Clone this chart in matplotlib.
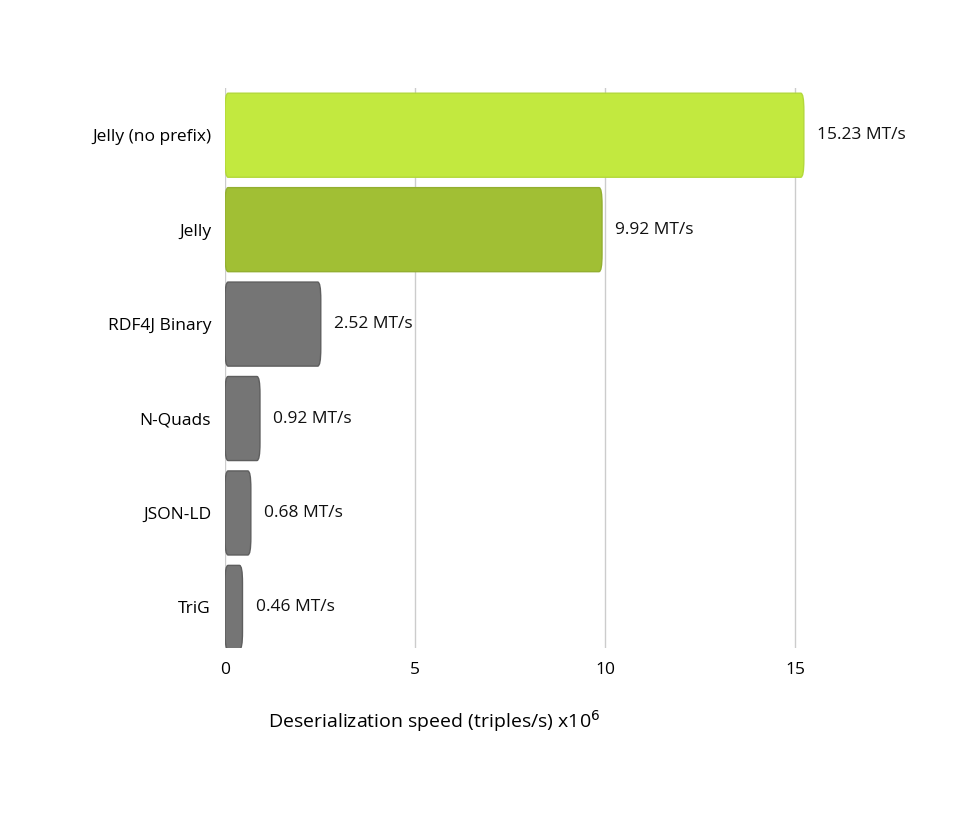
import matplotlib
matplotlib.use("Agg")
import matplotlib.pyplot as plt
from matplotlib.patches import FancyBboxPatch

categories = ["Jelly (no prefix)", "Jelly", "RDF4J Binary", "N-Quads", "JSON-LD", "TriG"]
values = [15.23, 9.92, 2.52, 0.92, 0.68, 0.46]
labels = ["15.23 MT/s", "9.92 MT/s", "2.52 MT/s", "0.92 MT/s", "0.68 MT/s", "0.46 MT/s"]
colors = ["#c2e93f", "#a1bf34", "#757575", "#757575", "#757575", "#757575"]
edges = ["#b3d83a", "#93af30", "#5e5e5e", "#5e5e5e", "#5e5e5e", "#5e5e5e"]

plt.rcParams["font.family"] = "Open Sans"
fig = plt.figure(figsize=(9.8, 8.17), dpi=100)
ax = fig.add_axes([225/980, 1-648/817, 675/980, 560/817])
ax.set_xlim(0, 17.76)
ax.set_ylim(5.43, -0.5)
h = 0.89
for i, (v, c, e) in enumerate(zip(values, colors, edges)):
    p = FancyBboxPatch((0, i - h/2), v, h, boxstyle="round,pad=0,rounding_size=0.08",
                       mutation_aspect=1/ (38/94.5) if False else 2.3, fc=c, ec=e, lw=1, zorder=3)
    ax.add_patch(p)
    ax.text(v + 0.35, i, labels[i], va="center", ha="left", fontsize=12.5, color="#111111")
ax.set_yticks(range(len(categories)))
ax.set_yticklabels(categories, fontsize=12.5)
ax.set_xticks([0, 5, 10, 15])
ax.tick_params(axis="both", length=0, labelsize=12.5, pad=10)
ax.grid(axis="x", color="#cccccc", lw=1, zorder=0)
for s in ax.spines.values():
    s.set_visible(False)
ax.set_xlabel("Deserialization speed (triples/s) x10$^6$", fontsize=14, labelpad=22, x=0.31)
fig.savefig("out.png", dpi=100, facecolor="white")
